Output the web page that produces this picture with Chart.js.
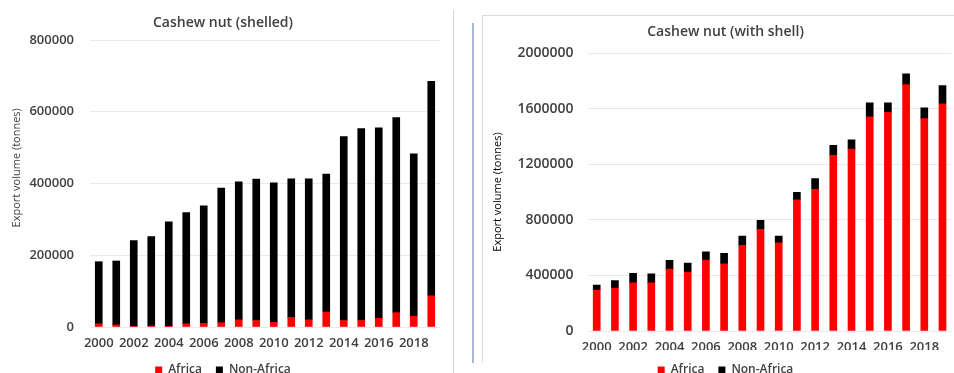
<!DOCTYPE html>
<html>
<head>
<meta charset="utf-8">
<script src="https://cdn.jsdelivr.net/npm/chart.js@4.4.1/dist/chart.umd.min.js"></script>
<style>
  html, body { margin:0; padding:0; background:#fff; }
  body { width:954px; height:373px; overflow:hidden; position:relative; }
  .box { position:absolute; }
  #sep { left:453px; top:10px; width:1px; height:363px; background:#d4d4d4; }
  #blue { left:472px; top:23px; width:2px; height:340px; background:#a9b6d6; }
  #frame { left:482px; top:15px; width:480px; height:347px; border-top:1px solid #dcdcdc; border-left:1px solid #dcdcdc; }
  #wrapA { left:0; top:0; width:455px; height:386px; }
  #wrapB { left:482px; top:0; width:490px; height:386px; }
</style>
</head>
<body>
<div class="box" id="sep"></div>
<div class="box" id="blue"></div>
<div class="box" id="frame"></div>
<div class="box" id="wrapA"><canvas id="shelled"></canvas></div>
<div class="box" id="wrapB"><canvas id="inshell"></canvas></div>
<script>
// years 2000-2019
const years = ['2000','2001','2002','2003','2004','2005','2006','2007','2008','2009',
               '2010','2011','2012','2013','2014','2015','2016','2017','2018','2019'];

// shelled kernels, tonnes
const shelledAfrica =    [9000, 6000, 2000, 3000, 2000, 9000, 10000, 12000, 20000, 18000,
                          13000, 27000, 20000, 42000, 18000, 18000, 24000, 40000, 30000, 87000];
const shelledNonAfrica = [173000, 178000, 239000, 249000, 291000, 310000, 328000, 375000, 385000, 394000,
                          389000, 386000, 393000, 384000, 513000, 535000, 531000, 544000, 453000, 598000];

// raw nuts with shell, tonnes
const inshellAfrica =    [294000, 308000, 346000, 346000, 445000, 423000, 510000, 484000, 616000, 731000,
                          635000, 943000, 1020000, 1263000, 1309000, 1540000, 1573000, 1773000, 1528000, 1634000];
const inshellNonAfrica = [36000, 55000, 68000, 65000, 63000, 65000, 60000, 74000, 67000, 65000,
                          48000, 55000, 77000, 72000, 67000, 101000, 68000, 77000, 77000, 132000];

const RED = '#ff0000', BLACK = '#000000', TXT = '#404040';
Chart.defaults.font.family = "'Open Sans', sans-serif";
Chart.defaults.color = TXT;

function makeChart(id, opts){
  return new Chart(document.getElementById(id), {
    type: 'bar',
    data: {
      labels: years,
      datasets: [
        {label:'Africa', data:opts.africa, backgroundColor:RED, barThickness:7},
        {label:'Non-Africa', data:opts.nonAfrica, backgroundColor:BLACK, barThickness:7}
      ]
    },
    options: {
      responsive:true, maintainAspectRatio:false, animation:false,
      layout:{ padding:{left:opts.padL, right:opts.padR, top:0, bottom:0} },
      plugins:{
        tooltip:{enabled:false},
        title:{ display:true, text:opts.title, color:TXT,
          font:{size:14, weight:'600'}, padding:{top:opts.titleTop, bottom:opts.titleBottom} },
        legend:{ position:'bottom',
          labels:{ boxWidth:7, boxHeight:7, padding:14, color:TXT, font:{size:12, weight:'600'} } }
      },
      scales:{
        x:{ stacked:true,
          grid:{display:false, drawTicks:false},
          border:{display:false},
          ticks:{ autoSkip:false, maxRotation:0, padding:opts.xPad, color:TXT, font:{size:13, weight:'600'},
            callback:function(v,i){ return i%2===0 ? years[i] : ''; } },
          afterFit:function(s){ s.height = opts.xHeight; }
        },
        y:{ stacked:true, min:0, max:opts.max,
          grid:{color:'#e9e9e9', drawTicks:false},
          border:{display:false},
          ticks:{ stepSize:opts.step, padding:opts.yPad, color:TXT, font:{size:opts.yFont, weight:'600'},
            callback:function(v){ return String(v); } },
          title:{ display:true, text:opts.yTitle, color:opts.yTitleColor,
            font:{size:11}, padding:{top:opts.yTitleTop, bottom:0} },
          afterFit:function(s){ s.width = opts.yWidth; }
        }
      }
    }
  });
}

makeChart('shelled', {
  africa:shelledAfrica, nonAfrica:shelledNonAfrica,
  title:'Cashew nut (shelled)', titleTop:14.6, titleBottom:8.6,
  padL:6, padR:15, max:800000, step:200000, yFont:13, yPad:16, yWidth:84,
  yTitle:'\u00a0\u00a0\u00a0\u00a0\u00a0\u00a0\u00a0\u00a0\u00a0\u00a0\u00a0Export volume (tonnes)',
  yTitleColor:'#404040', yTitleTop:4.4, xPad:8, xHeight:23
});

makeChart('inshell', {
  africa:inshellAfrica, nonAfrica:inshellNonAfrica,
  title:'Cashew nut (with shell)', titleTop:23.6, titleBottom:12.6,
  padL:17.4, padR:20.4, max:2000000, step:400000, yFont:14, yPad:14, yWidth:88.2,
  yTitle:'Export volume (tonnes)', yTitleColor:'#000000', yTitleTop:-8, xPad:8, xHeight:19
});
</script>
</body>
</html>
